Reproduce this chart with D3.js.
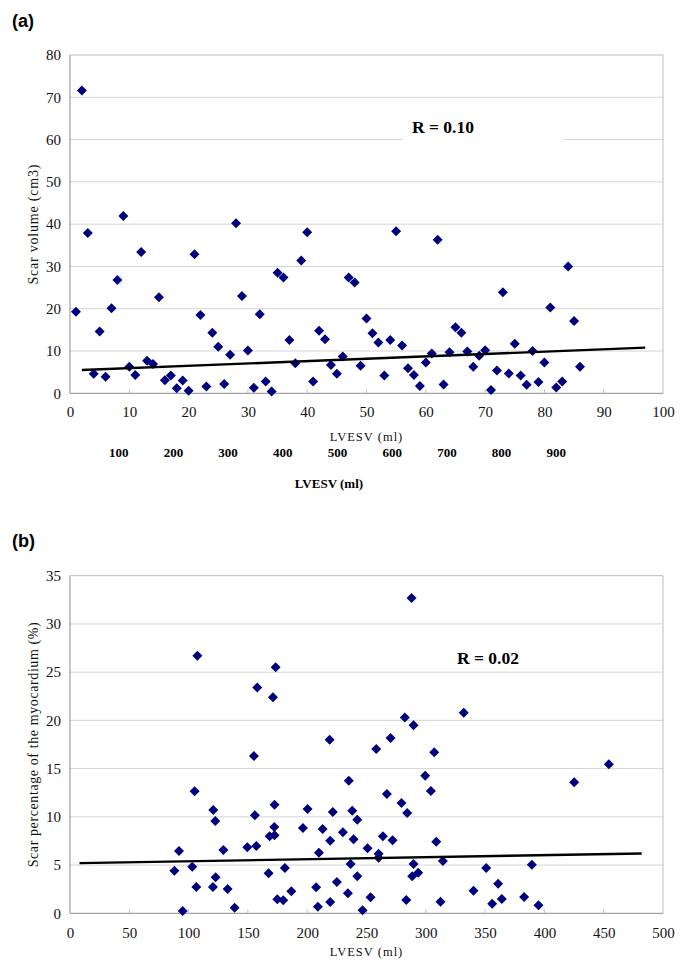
<!DOCTYPE html>
<html>
<head>
<meta charset="utf-8">
<script src="https://cdn.jsdelivr.net/npm/d3@7"></script>
<style>
  html, body { margin: 0; padding: 0; background: #fff; }
  svg { display: block; }
  .serif, .serif text { font-family: "Liberation Serif", "Times New Roman", serif !important; }
</style>
</head>
<body>
<svg id="chart" width="685" height="964"></svg>
<script>
// ---------- DATA ----------
// Panel (a): LVESV index (x) vs scar volume (cm3)
const aX = [1,2,3,4,5,6,7,8,9,10,11,12,13,14,15,16,17,18,19,20,21,22,23,24,25,26,27,28,29,30,
            31,32,33,34,35,36,37,38,39,40,41,42,43,44,45,46,47,48,49,50,51,52,53,54,55,56,57,58,59,60,
            61,62,63,64,65,66,67,68,69,70,71,72,73,74,75,76,77,78,79,80,81,82,83,84,85,86];
const aY = [19.3,71.6,37.9,4.6,14.6,3.9,20.1,26.8,41.9,6.3,4.3,33.4,7.7,6.9,22.7,3.1,4.2,1.2,3.0,0.6,
            32.9,18.5,1.6,14.3,11.0,2.2,9.1,40.2,23.0,10.1,1.3,18.7,2.8,0.4,28.5,27.4,12.6,7.1,31.4,38.1,
            2.8,14.8,12.8,6.7,4.6,8.7,27.4,26.2,6.5,17.7,14.2,12.0,4.2,12.6,38.3,11.3,5.9,4.3,1.7,7.3,
            9.4,36.3,2.1,9.7,15.6,14.3,9.9,6.3,8.9,10.2,0.8,5.4,23.9,4.7,11.7,4.2,2.0,10.0,2.7,7.3,
            20.3,1.4,2.8,30.0,17.1,6.3];
const aTrend = [[2, 5.5], [97, 10.8]];
const aXTicks = [0,10,20,30,40,50,60,70,80,90,100];
const aYTicks = [0,10,20,30,40,50,60,70,80];
const aSecondTicks = [100,200,300,400,500,600,700,800,900];
const aR = "R = 0.10";

// Panel (b): LVESV (ml) vs scar percentage of the myocardium (%)
const bX = [88.0,91.9,95.0,103.1,105.1,106.5,107.4,120.5,120.8,122.5,122.8,129.3,132.9,138.8,149.5,
            155.1,155.9,157.1,157.9,167.5,168.3,171.1,172.2,172.5,172.5,173.4,174.8,179.8,181.2,186.6,
            196.4,200.3,207.6,209.0,209.9,213.0,218.9,219.4,219.4,221.6,225.0,230.1,234.3,235.1,236.6,
            238.0,239.1,242.2,242.2,246.7,250.9,253.4,258.2,260.2,260.2,263.8,267.2,270.3,272.0,279.5,
            282.3,283.5,284.3,288.0,288.5,289.7,289.7,293.6,299.5,304.3,307.1,308.8,312.4,314.4,332.0,
            340.2,350.9,356.0,361.0,364.1,382.9,389.4,395.0,425.1,454.3];
const bY = [4.4,6.46,0.24,4.83,12.65,2.73,26.7,2.73,10.7,9.57,3.73,6.56,2.52,0.58,6.84,
            16.3,10.16,6.98,23.4,4.15,8.0,22.4,8.95,8.09,11.26,25.5,1.45,1.35,4.7,2.28,
            8.84,10.81,2.69,0.69,6.28,8.74,18.0,7.53,1.17,10.5,3.24,8.4,2.07,13.75,5.11,
            10.64,7.67,9.7,3.83,0.31,6.74,1.66,17.03,6.18,5.77,7.98,12.37,18.17,7.57,11.43,
            20.3,1.38,10.4,32.7,3.83,19.5,5.11,4.21,14.27,12.68,16.69,7.42,1.2,5.42,20.8,
            2.34,4.7,1.0,3.07,1.48,1.69,5.04,0.83,13.58,15.45];
const bTrend = [[8, 5.2], [482, 6.2]];
const bXTicks = [0,50,100,150,200,250,300,350,400,450,500];
const bYTicks = [0,5,10,15,20,25,30,35];
const bR = "R = 0.02";

// ---------- DRAWING ----------
const svg = d3.select("#chart");
svg.append("rect").attr("width", 685).attr("height", 964).attr("fill", "#fff");

const L = 70, Rgt = 663;

function diamond(r) { return `M0,${-r}L${r},0L0,${r}L${-r},0Z`; }

function drawPanel(o) {
  const x = d3.scaleLinear().domain(o.xDomain).range([L, Rgt]);
  const y = d3.scaleLinear().domain(o.yDomain).range([o.bottom, o.top]);
  const g = svg.append("g").attr("class", "serif");

  // gridlines
  g.selectAll(".grid").data(o.yTicks.filter(v => v > o.yDomain[0] && v < o.yDomain[1]))
    .join("line")
    .attr("x1", L).attr("x2", Rgt)
    .attr("y1", d => y(d)).attr("y2", d => y(d))
    .attr("stroke", "#d4d4d4").attr("stroke-width", 1);

  // R label background box
  if (o.rBox) {
    g.append("rect")
      .attr("x", x(o.rBox[0])).attr("y", y(o.rBox[3]))
      .attr("width", x(o.rBox[1]) - x(o.rBox[0]))
      .attr("height", y(o.rBox[2]) - y(o.rBox[3]))
      .attr("fill", "#fff");
  }

  // frame
  g.append("line").attr("x1", L).attr("x2", Rgt).attr("y1", o.top).attr("y2", o.top)
    .attr("stroke", "#bdbdbd");
  g.append("line").attr("x1", Rgt).attr("x2", Rgt).attr("y1", o.top).attr("y2", o.bottom)
    .attr("stroke", "#bdbdbd");
  g.append("line").attr("x1", L).attr("x2", L).attr("y1", o.top).attr("y2", o.bottom)
    .attr("stroke", "#8c8c8c");
  g.append("line").attr("x1", L).attr("x2", Rgt).attr("y1", o.bottom).attr("y2", o.bottom)
    .attr("stroke", "#8c8c8c");

  // inner x tick marks
  g.selectAll(".xt").data(o.xTicks.slice(1, -1)).join("line")
    .attr("x1", d => x(d)).attr("x2", d => x(d))
    .attr("y1", o.bottom).attr("y2", o.bottom - 4)
    .attr("stroke", "#c0c0c0");

  // y axis labels
  const ya = g.append("g").attr("class", "serif").attr("transform", `translate(${L},0)`)
    .call(d3.axisLeft(y).tickValues(o.yTicks).tickSize(0).tickPadding(9));
  ya.attr("font-size", 15);
  ya.select(".domain").remove();
  ya.selectAll("text").attr("font-size", 15).attr("fill", "#111");

  // x axis labels
  const xa = g.append("g").attr("class", "serif").attr("transform", `translate(0,${o.bottom})`)
    .call(d3.axisBottom(x).tickValues(o.xTicks).tickSize(0).tickPadding(o.xPad));
  xa.attr("font-size", 15);
  xa.select(".domain").remove();
  xa.selectAll("text").attr("font-size", 15).attr("fill", "#111");

  // points
  g.selectAll(".pt").data(o.xs.map((v, i) => [v, o.ys[i]])).join("path")
    .attr("d", diamond(5))
    .attr("transform", d => `translate(${x(d[0])},${y(d[1])})`)
    .attr("fill", "#00007f");

  // trend line
  g.append("path")
    .attr("d", d3.line().x(d => x(d[0])).y(d => y(d[1]))(o.trend))
    .attr("stroke", "#000").attr("stroke-width", 2.4).attr("fill", "none");

  // R text
  g.append("text").attr("x", o.rPos[0]).attr("y", o.rPos[1])
    .attr("font-weight", "bold").attr("font-size", 17.5)
    .attr("fill", "#000").text(o.rText);

  // axis titles
  g.append("text")
    .attr("x", (L + Rgt) / 2).attr("y", o.xTitleY)
    .attr("text-anchor", "middle").attr("font-size", 12.5)
    .attr("letter-spacing", 1).attr("fill", "#111").text("LVESV (ml)");
  g.append("text")
    .attr("transform", `translate(38,${(o.top + o.bottom) / 2}) rotate(-90)`)
    .attr("text-anchor", "middle").attr("font-size", o.yTitleSize)
    .attr("letter-spacing", o.yTitleLS).attr("fill", "#111").text(o.yTitle);

  // panel letter
  svg.append("text").attr("x", 12).attr("y", o.letterY)
    .style("font-family", "'Liberation Sans', Arial, sans-serif").attr("font-weight", "bold")
    .attr("font-size", 18).attr("fill", "#000").text(o.letter);

  return { x, y };
}

drawPanel({
  xDomain: [0, 100], yDomain: [0, 80], top: 55, bottom: 393.3,
  xTicks: aXTicks, yTicks: aYTicks, xPad: 13,
  xs: aX, ys: aY, trend: aTrend,
  rText: aR, rPos: [412, 133], rBox: [56.1, 83.2, 57.5, 67],
  xTitleY: 441, yTitle: "Scar volume (cm3)", yTitleSize: 14, yTitleLS: 0.8,
  letter: "(a)", letterY: 27
});

// secondary (bold) LVESV scale under panel (a)
const x2 = d3.scaleLinear().domain([0, 1000]).range([64, 611]);
const sec = svg.append("g").attr("class", "serif");
sec.selectAll("text").data(aSecondTicks).join("text")
  .attr("x", d => x2(d)).attr("y", 457)
  .attr("text-anchor", "middle").attr("font-weight", "bold")
  .attr("font-size", 13).attr("fill", "#000").text(d => d);
sec.append("text").attr("x", 329).attr("y", 488)
  .attr("text-anchor", "middle").attr("font-weight", "bold")
  .attr("font-size", 13).attr("fill", "#000").text("LVESV (ml)");

drawPanel({
  xDomain: [0, 500], yDomain: [0, 35], top: 575.7, bottom: 913.3,
  xTicks: bXTicks, yTicks: bYTicks, xPad: 14,
  xs: bX, ys: bY, trend: bTrend,
  rText: bR, rPos: [457, 664], rBox: null,
  xTitleY: 956, yTitle: "Scar percentage of the myocardium (%)", yTitleSize: 14, yTitleLS: 0.6,
  letter: "(b)", letterY: 547
});
</script>
</body>
</html>
